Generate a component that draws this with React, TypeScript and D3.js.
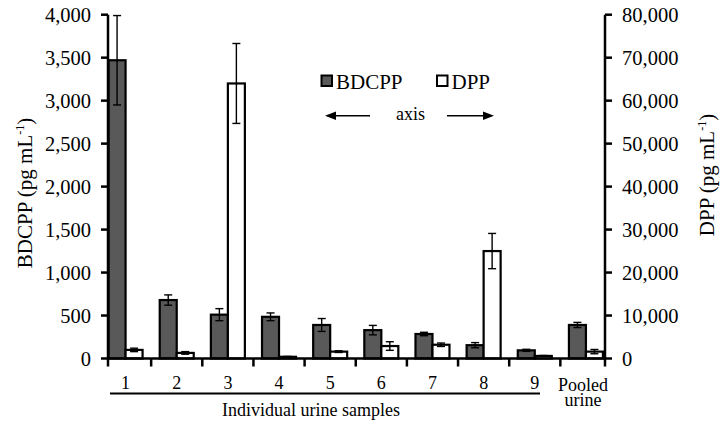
import React from "react";
import * as d3 from "d3";

const categories = ["1", "2", "3", "4", "5", "6", "7", "8", "9", "Pooled urine"];
const bdcpp = [3470, 680, 510, 485, 390, 330, 285, 155, 95, 390];
const bdcppErr = [520, 60, 70, 45, 75, 55, 20, 30, 12, 30];
const dpp = [2000, 1300, 64000, 400, 1600, 2900, 3200, 25000, 600, 1600];
const dppErr = [400, 300, 9300, 80, 200, 1000, 400, 4100, 100, 500];
const leftTicks = [0, 500, 1000, 1500, 2000, 2500, 3000, 3500, 4000];
const rightTicks = [0, 10000, 20000, 30000, 40000, 50000, 60000, 70000, 80000];

const W = 724;
const H = 427;
const FONT = "Liberation Serif, DejaVu Serif, Times New Roman, serif";

export default function App() {
  const x = d3.scaleBand<string>().domain(categories).range([100, 611.5]).padding(0);
  const yL = d3.scaleLinear().domain([0, 4000]).range([358.5, 14.7]);
  const yR = d3.scaleLinear().domain([0, 80000]).range([358.5, 14.7]);
  const fmt = d3.format(",");
  const axL = 108;
  const axR = 605;
  const y0 = 358.5;
  const bw = 17;
  const bw2 = x.bandwidth();

  const boundaries = categories.slice(1).map((c) => x(c) as number);

  return (
    <svg width={W} height={H} style={{ position: "absolute", left: 0, top: 0, background: "#fff", fontFamily: FONT }}>
      {categories.map((c, i) => {
        const cx = (x(c) as number) + bw2 / 2;
        const hb = yL(bdcpp[i]);
        const hd = yR(dpp[i]);
        return (
          <g key={c}>
            <rect x={cx - bw} y={hb} width={bw} height={y0 - hb} fill="#595959" stroke="#000" strokeWidth={2.2} />
            <rect x={cx} y={hd} width={bw} height={y0 - hd} fill="#fff" stroke="#000" strokeWidth={2.2} />
            <g stroke="#000" strokeWidth={1.4}>
              <line x1={cx - bw / 2} x2={cx - bw / 2} y1={yL(bdcpp[i] + bdcppErr[i])} y2={yL(bdcpp[i] - bdcppErr[i])} />
              <line x1={cx - bw / 2 - 4} x2={cx - bw / 2 + 4} y1={yL(bdcpp[i] + bdcppErr[i])} y2={yL(bdcpp[i] + bdcppErr[i])} />
              <line x1={cx - bw / 2 - 4} x2={cx - bw / 2 + 4} y1={yL(bdcpp[i] - bdcppErr[i])} y2={yL(bdcpp[i] - bdcppErr[i])} />
              <line x1={cx + bw / 2} x2={cx + bw / 2} y1={yR(dpp[i] + dppErr[i])} y2={yR(dpp[i] - dppErr[i])} />
              <line x1={cx + bw / 2 - 4} x2={cx + bw / 2 + 4} y1={yR(dpp[i] + dppErr[i])} y2={yR(dpp[i] + dppErr[i])} />
              <line x1={cx + bw / 2 - 4} x2={cx + bw / 2 + 4} y1={yR(dpp[i] - dppErr[i])} y2={yR(dpp[i] - dppErr[i])} />
            </g>
          </g>
        );
      })}

      <g stroke="#000" strokeWidth={2.5}>
        <line x1={axL} x2={axL} y1={yL(4000)} y2={y0 + 8} />
        <line x1={axR} x2={axR} y1={yR(80000)} y2={y0 + 8} />
        <line x1={axL} x2={axR} y1={y0} y2={y0} />
        {leftTicks.map((t) => (
          <line key={"lt" + t} x1={axL - 7} x2={axL} y1={yL(t)} y2={yL(t)} />
        ))}
        {rightTicks.map((t) => (
          <line key={"rt" + t} x1={axR} x2={axR + 7} y1={yR(t)} y2={yR(t)} />
        ))}
        {boundaries.map((b, i) => (
          <line key={"bt" + i} x1={b} x2={b} y1={y0} y2={y0 + 8} />
        ))}
      </g>

      {leftTicks.map((t) => (
        <text key={"ll" + t} x={axL - 17} y={yL(t)} dy="0.35em" textAnchor="end" fontSize={20.5}>
          {fmt(t)}
        </text>
      ))}
      {rightTicks.map((t) => (
        <text key={"rl" + t} x={axR + 17} y={yR(t)} dy="0.35em" textAnchor="start" fontSize={20.5}>
          {fmt(t)}
        </text>
      ))}

      {categories.map((c) => {
        const cx = (x(c) as number) + bw2 / 2;
        if (c === "Pooled urine") {
          return (
            <text key={c} x={cx - 3} y={390.5} textAnchor="middle" fontSize={18}>
              <tspan x={cx - 3} y={390.5}>Pooled</tspan>
              <tspan x={cx - 3} y={405.5}>urine</tspan>
            </text>
          );
        }
        return (
          <text key={c} x={cx} y={388.5} textAnchor="middle" fontSize={18}>
            {c}
          </text>
        );
      })}

      <line x1={110} x2={540} y1={393.5} y2={393.5} stroke="#000" strokeWidth={2} />
      <text x={311} y={416} textAnchor="middle" fontSize={18}>
        Individual urine samples
      </text>

      <text transform="translate(32,193) rotate(-90)" textAnchor="middle" fontSize={21}>
        BDCPP (pg mL<tspan dy="-8" fontSize={12}>-1</tspan><tspan dy="8">)</tspan>
      </text>
      <text transform="translate(713.5,175) rotate(-90)" textAnchor="middle" fontSize={21}>
        DPP (pg mL<tspan dy="-8" fontSize={12}>-1</tspan><tspan dy="8">)</tspan>
      </text>

      <rect x={321.5} y={75.5} width={10.5} height={10.5} fill="#595959" stroke="#000" strokeWidth={2} />
      <text x={336} y={88.5} fontSize={21}>BDCPP</text>
      <rect x={437} y={75.5} width={10.5} height={10.5} fill="#fff" stroke="#000" strokeWidth={2} />
      <text x={451.5} y={88.5} fontSize={21}>DPP</text>

      <line x1={333} x2={370} y1={115.7} y2={115.7} stroke="#000" strokeWidth={1.6} />
      <path d="M325,115.7 L336,111.5 L336,119.9 Z" fill="#000" />
      <text x={396} y={120} fontSize={18}>axis</text>
      <line x1={447} x2={485} y1={115.7} y2={115.7} stroke="#000" strokeWidth={1.6} />
      <path d="M494,115.7 L483,111.5 L483,119.9 Z" fill="#000" />
    </svg>
  );
}
